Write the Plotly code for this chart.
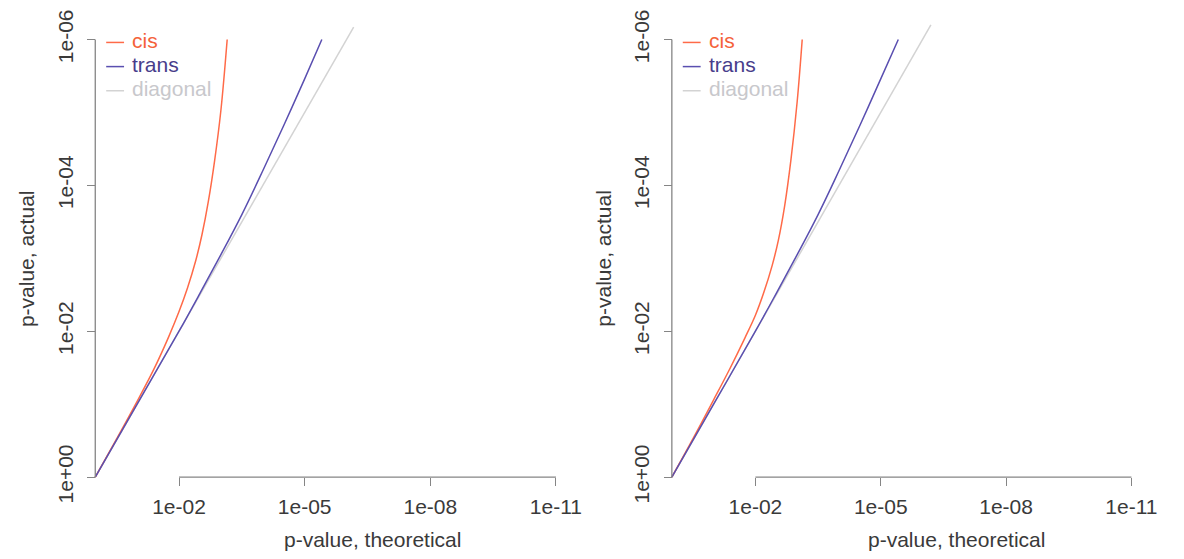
import plotly.graph_objects as go

# Figure size in pixels
W, H = 1184, 559

# QQ curves on the -log10 scale: theoretical (x) vs. actual (y)
cis_left_x = [0, 0.5, 1.0, 1.4, 1.75, 2.0, 2.2, 2.4, 2.55, 2.7, 2.85, 3.0, 3.15]
cis_left_y = [0, 0.515, 1.04, 1.48, 1.92, 2.27, 2.59, 2.97, 3.33, 3.78, 4.34, 5.03, 6.0]
trans_left_x = [0, 1, 2, 2.5, 3, 3.5, 4, 4.5, 5, 5.41]
trans_left_y = [0, 1, 2, 2.52, 3.05, 3.6, 4.2, 4.82, 5.46, 6.0]
diag_left = [0, 6.17]

cis_right_x = [0, 0.5, 1.0, 1.4, 1.75, 2.0, 2.2, 2.4, 2.55, 2.7, 2.85, 3.0, 3.12]
cis_right_y = [0, 0.52, 1.06, 1.5, 1.91, 2.22, 2.53, 2.9, 3.25, 3.72, 4.35, 5.15, 6.0]
trans_right_x = [0, 1, 2, 2.5, 3, 3.5, 4, 4.5, 5, 5.42]
trans_right_y = [0, 1, 2, 2.52, 3.05, 3.6, 4.2, 4.82, 5.46, 6.0]
diag_right = [0, 6.2]

x_tickvals = [2, 5, 8, 11]
x_ticktext = ["1e-02", "1e-05", "1e-08", "1e-11"]
y_tickvals = [0, 2, 4, 6]
y_ticktext = ["1e+00", "1e-02", "1e-04", "1e-06"]

series_names = ["cis", "trans", "diagonal"]
line_colors = ["#FF6A48", "#5A4FB0", "#D3D3D3"]
label_colors = ["#F4623A", "#483D8B", "#C8C8CC"]

AXIS_COLOR = "#858585"
TEXT_COLOR = "#3a3a3a"
FONT = "Liberation Sans, Arial, sans-serif"
FS = 21

X_RANGE = [-0.3, 11.4]
Y_RANGE = [-0.3, 6.35]
PX_PER_Y = 74.0
ORIGIN_Y = 480.0  # pixel row of y = 0
LEGEND_ROWS = [37.0, 61.5, 86.0]  # pixel rows of the legend entries

panels = [
    dict(origin_x=96.0, px_per_x=42.2, xtitle_x=375, ytitle_x=27,
         cis=(cis_left_x, cis_left_y), trans=(trans_left_x, trans_left_y), diag=diag_left),
    dict(origin_x=677.0, px_per_x=42.1, xtitle_x=964, ytitle_x=608,
         cis=(cis_right_x, cis_right_y), trans=(trans_right_x, trans_right_y), diag=diag_right),
]


def px_x(p):
    return p / W


def px_y(p):
    return (H - p) / H


fig = go.Figure()
layout = dict(
    width=W, height=H,
    margin=dict(l=0, r=0, t=0, b=0),
    paper_bgcolor="white", plot_bgcolor="white",
    font=dict(family=FONT, size=FS, color=TEXT_COLOR),
    showlegend=False,
)
shapes = []
annotations = []

y_dom = [px_y(ORIGIN_Y - Y_RANGE[0] * PX_PER_Y), px_y(ORIGIN_Y - Y_RANGE[1] * PX_PER_Y)]

for i, p in enumerate(panels):
    sfx = "" if i == 0 else str(i + 1)
    xa, ya = "x" + sfx, "y" + sfx
    x_dom = [px_x(p["origin_x"] + X_RANGE[0] * p["px_per_x"]),
             px_x(p["origin_x"] + X_RANGE[1] * p["px_per_x"])]

    fig.add_trace(go.Scatter(
        x=p["diag"], y=p["diag"], mode="lines", name=series_names[2],
        line=dict(color=line_colors[2], width=1.5), xaxis=xa, yaxis=ya))
    fig.add_trace(go.Scatter(
        x=p["cis"][0], y=p["cis"][1], mode="lines", name=series_names[0],
        line=dict(color=line_colors[0], width=1.5, shape="spline", smoothing=1.0),
        xaxis=xa, yaxis=ya))
    fig.add_trace(go.Scatter(
        x=p["trans"][0], y=p["trans"][1], mode="lines", name=series_names[1],
        line=dict(color=line_colors[1], width=1.5, shape="spline", smoothing=1.0),
        xaxis=xa, yaxis=ya))

    layout["xaxis" + sfx] = dict(
        domain=x_dom, range=X_RANGE, anchor="free", position=px_y(ORIGIN_Y),
        tickvals=x_tickvals, ticktext=x_ticktext, ticks="outside", ticklen=8,
        tickwidth=1.3, tickcolor=AXIS_COLOR, showline=False, showgrid=False,
        zeroline=False, ticklabelstandoff=3,
        tickfont=dict(family=FONT, size=FS, color=TEXT_COLOR), fixedrange=True)
    layout["yaxis" + sfx] = dict(
        domain=y_dom, range=Y_RANGE, anchor="free", position=px_x(p["origin_x"]),
        tickvals=y_tickvals, ticktext=y_ticktext, ticks="outside", ticklen=8,
        tickwidth=1.3, tickcolor=AXIS_COLOR, showline=False, showgrid=False,
        zeroline=False, tickangle=-90, ticklabelstandoff=6,
        tickfont=dict(family=FONT, size=FS, color=TEXT_COLOR), fixedrange=True)

    # axis lines spanning only the tick range
    shapes.append(dict(type="line", xref=xa, yref=ya, x0=0, x1=0,
                       y0=y_tickvals[0], y1=y_tickvals[-1],
                       line=dict(color=AXIS_COLOR, width=1.3)))
    shapes.append(dict(type="line", xref=xa, yref=ya, x0=x_tickvals[0], x1=x_tickvals[-1],
                       y0=0, y1=0, line=dict(color=AXIS_COLOR, width=1.3)))

    annotations.append(dict(text="p-value, theoretical", xref="paper", yref="paper",
                            x=px_x(p["xtitle_x"]), y=px_y(543), showarrow=False,
                            xanchor="center", yanchor="middle",
                            font=dict(family=FONT, size=FS, color=TEXT_COLOR)))
    annotations.append(dict(text="p-value, actual", xref="paper", yref="paper",
                            x=px_x(p["ytitle_x"]), y=px_y(258), showarrow=False,
                            textangle=-90, xanchor="center", yanchor="middle",
                            font=dict(family=FONT, size=FS, color=TEXT_COLOR)))

    # legend: short line sample plus coloured label for each series
    for name, lc, tc, row in zip(series_names, line_colors, label_colors, LEGEND_ROWS):
        shapes.append(dict(type="line", xref="paper", yref="paper",
                           x0=px_x(p["origin_x"] + 11), x1=px_x(p["origin_x"] + 29),
                           y0=px_y(row + 2), y1=px_y(row + 2),
                           line=dict(color=lc, width=1.5)))
        annotations.append(dict(text=name, xref="paper", yref="paper",
                                x=px_x(p["origin_x"] + 35), y=px_y(row),
                                showarrow=False, xanchor="left", yanchor="middle",
                                font=dict(family=FONT, size=FS, color=tc)))

layout["shapes"] = shapes
layout["annotations"] = annotations
fig.update_layout(**layout)

fig.write_html("out.html")
